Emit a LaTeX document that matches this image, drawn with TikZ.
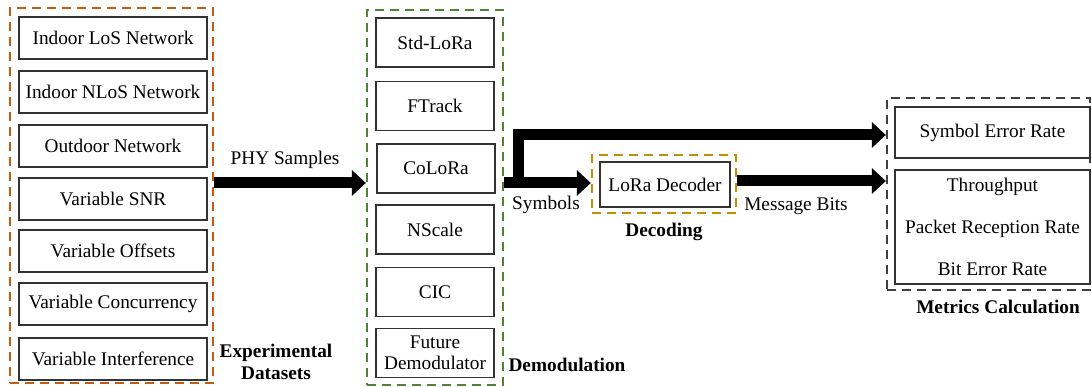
\documentclass[tikz,border=0pt]{standalone}
\usepackage{fontspec}
\setmainfont{Liberation Serif}
\usetikzlibrary{arrows.meta}
\definecolor{dsorange}{HTML}{C55A11}
\definecolor{dmgreen}{HTML}{548235}
\definecolor{dcgold}{HTML}{BF9000}
\definecolor{mcgray}{HTML}{404040}
\tikzset{
  txt/.style={font=\fontsize{19.3}{22}\selectfont, inner sep=0pt},
  lbl/.style={font=\fontsize{19.3}{22}\selectfont\bfseries, inner sep=0pt, align=center},
  itembox/.style={draw=black!80, line width=1.2pt, rectangle, inner sep=0pt, align=center,
    font=\fontsize{19.3}{21}\selectfont},
  group/.style={draw=#1, dash pattern=on 9pt off 6pt, line width=2.3pt, rectangle, inner sep=0pt},
  flow/.style={line width=11pt, draw=black, line join=miter, -{Triangle[length=14pt,width=25pt]}},
}
\begin{document}
\begin{tikzpicture}[x=1pt,y=-1pt]
\useasboundingbox (0,0) rectangle (1092,387);
% Experimental datasets
\node[group=dsorange, minimum width=203pt, minimum height=375pt] (ds) at (111.5,195.5) {};
\node[itembox, minimum width=188pt, minimum height=42pt] (d1) at (113,38) {Indoor LoS Network};
\node[itembox, minimum width=188pt, minimum height=42pt] (d2) at (113,92) {Indoor NLoS Network};
\node[itembox, minimum width=188pt, minimum height=42pt] (d3) at (113,146) {Outdoor Network};
\node[itembox, minimum width=188pt, minimum height=42pt] (d4) at (113,199) {Variable SNR};
\node[itembox, minimum width=188pt, minimum height=42pt] (d5) at (113,251) {Variable Offsets};
\node[itembox, minimum width=188pt, minimum height=42pt] (d6) at (113,304) {Variable Concurrency};
\node[itembox, minimum width=188pt, minimum height=42pt] (d7) at (113,359) {Variable Interference};
\node[lbl] (dsl) at (276,362) {Experimental\\Datasets};
% Demodulation
\node[group=dmgreen, minimum width=136pt, minimum height=375pt] (dm) at (435,197.5) {};
\node[itembox, minimum width=118pt, minimum height=49pt] (m1) at (435,42.5) {Std-LoRa};
\node[itembox, minimum width=118pt, minimum height=49pt] (m2) at (435,106) {FTrack};
\node[itembox, minimum width=118pt, minimum height=49pt] (m3) at (436,168.5) {CoLoRa};
\node[itembox, minimum width=118pt, minimum height=49pt] (m4) at (435,229.5) {NScale};
\node[itembox, minimum width=118pt, minimum height=49pt] (m5) at (435,292) {CIC};
\node[itembox, minimum width=118pt, minimum height=49pt] (m6) at (435,353) {Future\\Demodulator};
\node[lbl] (dml) at (567,365) {Demodulation};
% Decoding
\node[group=dcgold, minimum width=144pt, minimum height=58pt] (dc) at (664,184) {};
\node[itembox, minimum width=130pt, minimum height=45pt] (dec) at (665,184.5) {LoRa Decoder};
\node[lbl] (dcl) at (664,232) {Decoding};
% Metrics
\node[group=mcgray, minimum width=203pt, minimum height=192pt] (mc) at (988.5,194) {};
\node[itembox, minimum width=195pt, minimum height=51pt] (ser) at (992.5,132.5) {Symbol Error Rate};
\node[itembox, minimum width=195pt, minimum height=114pt, font=\fontsize{19.3}{42}\selectfont] (oth) at (992.5,227) {Throughput\\Packet Reception Rate\\Bit Error Rate};
\node[lbl] (mcl) at (998,307) {Metrics Calculation};
% Connectors
\draw[flow] (ds.east |- 0,183) -- (dm.west |- 0,183);
\node[txt] (phy) at (285,160) {PHY Samples};
\draw[flow] (dm.east |- 0,183) -- (dc.west |- 0,183);
\node[txt] (sym) at (546,205) {Symbols};
\coordinate (br) at (518.5,188.5);
\coordinate (sert) at (0,135);
\draw[flow] (br) |- (mc.west |- sert);
\draw[flow] (dc.east |- 0,181) -- (mc.west |- 0,181);
\node[txt] (mb) at (796,206) {Message Bits};
\end{tikzpicture}
\end{document}
